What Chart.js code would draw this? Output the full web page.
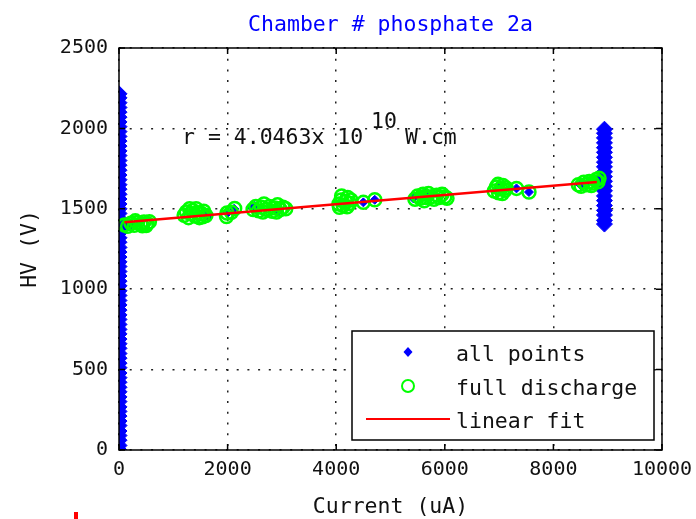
<!DOCTYPE html>
<html>
<head>
<meta charset="utf-8">
<script src="https://cdn.jsdelivr.net/npm/chart.js@4"></script>
<style>
  html, body { margin: 0; padding: 0; background: #fff; }
  #wrap { position: relative; width: 696px; height: 519px; }
  #stray { position: absolute; left: 74px; top: 512px; width: 4px; height: 7px; background: #ff0000; }
</style>
</head>
<body>
<div id="wrap">
  <canvas id="chart" width="696" height="519"></canvas>
  <div id="stray"></div>
</div>
<script>
// textes
const titleText = 'Chamber # phosphate 2a';
const xTitle = 'Current (uA)';
const yTitle = 'HV (V)';
const legendLabels = ['all points', 'full discharge', 'linear fit'];
const fitLabel = ['r = 4.0463x 10', '10', 'W.cm'];

// ticks
const xTicks = [0, 2000, 4000, 6000, 8000, 10000];
const yTicks = [0, 500, 1000, 1500, 2000, 2500];

// all points : colonne a I ~ 0
const leftColumnCurrent = 0;
const leftColumnHV = [0, 28, 61, 90, 118, 152, 180, 211, 240, 268, 301, 330, 362, 390, 421, 450,
  479, 512, 540, 571, 600, 632, 661, 690, 722, 750, 781, 812, 840, 870, 902, 930, 961, 990,
  1021, 1050, 1082, 1110, 1141, 1170, 1200, 1231, 1260, 1292, 1320, 1350, 1381, 1410, 1440,
  1471, 1500, 1530, 1561, 1590, 1622, 1650, 1681, 1710, 1740, 1771, 1800, 1831, 1860, 1890,
  1921, 1950, 1980, 2011, 2040, 2070, 2101, 2130, 2160, 2190, 2215];

// all points : colonne a I ~ 8940
const rightColumnCurrent = 8940;
const rightColumnHV = [1405, 1428, 1461, 1490, 1520, 1551, 1580, 1612, 1640, 1671, 1700, 1730,
  1761, 1790, 1820, 1851, 1880, 1910, 1941, 1970, 1995];

// all points visibles dans les paquets
const blueCurrent = [60, 120, 220, 1620, 1640, 2000, 2120, 2460, 2500, 2920, 4500, 4710,
  5420, 5560, 5640, 7000, 7320, 7550, 8500, 8610, 8800];
const blueHV = [1410, 1395, 1400, 1470, 1452, 1474, 1500, 1505, 1518, 1482, 1540, 1556,
  1565, 1580, 1595, 1630, 1627, 1604, 1648, 1652, 1672];

// full discharge
const fullCurrent = [100, 160, 220, 280, 340, 400, 460, 520, 560, 300, 430, 500,
  1200, 1240, 1280, 1320, 1360, 1400, 1440, 1480, 1520, 1560, 1600, 1300, 1420, 1540,
  1990, 2070, 2130, 1980,
  2470, 2520, 2570, 2620, 2670, 2720, 2770, 2820, 2870, 2920, 2970, 3020, 3070, 2650, 2900,
  4050, 4090, 4130, 4170, 4210, 4250, 4270, 4100, 4200, 4060,
  4500, 4710,
  5450, 5500, 5550, 5600, 5650, 5700, 5750, 5800, 5850, 5900, 5950, 6000, 6040, 5620,
  6910, 6950, 6990, 7030, 7070, 7110, 7130, 6980, 7060,
  7320, 7550,
  8460, 8510, 8560, 8610, 8660, 8720, 8780, 8820, 8840, 8700];
const fullHV = [1400, 1392, 1410, 1398, 1415, 1405, 1418, 1408, 1420, 1425, 1394, 1396,
  1460, 1480, 1445, 1470, 1490, 1455, 1475, 1445, 1470, 1485, 1458, 1500, 1500, 1450,
  1474, 1478, 1502, 1452,
  1495, 1515, 1488, 1510, 1530, 1495, 1515, 1485, 1505, 1525, 1495, 1510, 1500, 1480, 1480,
  1530, 1555, 1520, 1545, 1570, 1535, 1555, 1580, 1512, 1510,
  1540, 1556,
  1560, 1580, 1565, 1590, 1570, 1595, 1575, 1560, 1585, 1570, 1590, 1575, 1565, 1550,
  1610, 1635, 1600, 1625, 1645, 1615, 1630, 1652, 1595,
  1627, 1604,
  1650, 1640, 1665, 1650, 1670, 1660, 1680, 1668, 1690, 1645];

// linear fit
const fitCurrent = [100, 8800];
const fitHV = [1417, 1666];

const allPoints = []
  .concat(leftColumnHV.map(v => ({ x: leftColumnCurrent, y: v })))
  .concat(rightColumnHV.map(v => ({ x: rightColumnCurrent, y: v })))
  .concat(blueCurrent.map((c, i) => ({ x: c, y: blueHV[i] })));
const columnCount = leftColumnHV.length + rightColumnHV.length;

const monoFont = '"DejaVu Sans Mono", monospace';

// cadre, ticks interieurs, titres, annotation et legende
const framePlugin = {
  id: 'frame',
  afterDraw(chart) {
    const { ctx, chartArea: a, scales: { x, y } } = chart;
    ctx.save();
    ctx.setLineDash([]);
    ctx.strokeStyle = '#000';
    ctx.lineWidth = 1.5;
    ctx.strokeRect(a.left, a.top, a.right - a.left, a.bottom - a.top);
    ctx.beginPath();
    xTicks.forEach(v => {
      const px = x.getPixelForValue(v);
      ctx.moveTo(px, a.bottom); ctx.lineTo(px, a.bottom - 6);
      ctx.moveTo(px, a.top); ctx.lineTo(px, a.top + 6);
    });
    yTicks.forEach(v => {
      const py = y.getPixelForValue(v);
      ctx.moveTo(a.left, py); ctx.lineTo(a.left + 6, py);
      ctx.moveTo(a.right, py); ctx.lineTo(a.right - 6, py);
    });
    ctx.stroke();

    ctx.font = '21.5px ' + monoFont;
    ctx.textBaseline = 'middle';
    ctx.textAlign = 'center';
    ctx.fillStyle = '#0000ff';
    ctx.fillText(titleText, (a.left + a.right) / 2, 25);

    ctx.fillStyle = '#111';
    ctx.fillText(xTitle, (a.left + a.right) / 2, 507);
    ctx.save();
    ctx.translate(30, (a.top + a.bottom) / 2);
    ctx.rotate(-Math.PI / 2);
    ctx.fillText(yTitle, 0, 0);
    ctx.restore();

    // r = ... x 10^10 W.cm
    ctx.textAlign = 'left';
    ctx.fillText(fitLabel[0], 182, 138);
    ctx.fillText(fitLabel[1], 371, 122);
    ctx.fillText(fitLabel[2], 405, 138);

    // legende
    const lx = a.right - 310, ly = a.bottom - 119, lw = 302, lh = 109;
    ctx.fillStyle = '#fff';
    ctx.fillRect(lx, ly, lw, lh);
    ctx.strokeStyle = '#000';
    ctx.lineWidth = 1.5;
    ctx.strokeRect(lx, ly, lw, lh);

    const mx = lx + 56;
    ctx.fillStyle = '#0000ff';
    ctx.beginPath();
    ctx.moveTo(mx, ly + 16); ctx.lineTo(mx + 4.5, ly + 21);
    ctx.lineTo(mx, ly + 26); ctx.lineTo(mx - 4.5, ly + 21);
    ctx.closePath();
    ctx.fill();

    ctx.strokeStyle = '#00ff00';
    ctx.lineWidth = 2;
    ctx.beginPath();
    ctx.arc(mx, ly + 55, 6, 0, Math.PI * 2);
    ctx.stroke();

    ctx.strokeStyle = '#ff0000';
    ctx.beginPath();
    ctx.moveTo(lx + 14, ly + 88); ctx.lineTo(lx + 98, ly + 88);
    ctx.stroke();

    ctx.fillStyle = '#111';
    ctx.font = '21.5px ' + monoFont;
    ctx.fillText(legendLabels[0], lx + 104, ly + 24);
    ctx.fillText(legendLabels[1], lx + 104, ly + 58);
    ctx.fillText(legendLabels[2], lx + 104, ly + 91);
    ctx.restore();
  }
};

new Chart(document.getElementById('chart').getContext('2d'), {
  type: 'scatter',
  data: {
    datasets: [
      {
        label: legendLabels[2],
        data: fitCurrent.map((c, i) => ({ x: c, y: fitHV[i] })),
        showLine: true,
        borderColor: '#ff0000',
        borderWidth: 2.5,
        pointRadius: 0,
        order: 0
      },
      {
        label: legendLabels[1],
        data: fullCurrent.map((c, i) => ({ x: c, y: fullHV[i] })),
        pointStyle: 'circle',
        pointRadius: 6.5,
        borderColor: '#00ff00',
        backgroundColor: 'rgba(0,0,0,0)',
        borderWidth: 2.5,
        order: 1
      },
      {
        label: legendLabels[0],
        data: allPoints,
        pointStyle: 'rectRot',
        pointRadius: c => (c.dataIndex < columnCount ? 8 : 4.5),
        borderColor: '#0000ff',
        backgroundColor: '#0000ff',
        borderWidth: 1,
        order: 2
      }
    ]
  },
  options: {
    responsive: false,
    animation: false,
    devicePixelRatio: 1,
    layout: { padding: { top: 48, right: 34, left: 0, bottom: 0 } },
    plugins: {
      legend: { display: false },
      title: { display: false },
      tooltip: { enabled: false }
    },
    scales: {
      x: {
        type: 'linear',
        min: 0,
        max: 10000,
        afterFit: s => { s.height = 69; s.paddingRight = 0; s.paddingLeft = 0; },
        afterBuildTicks: s => { s.ticks = xTicks.map(v => ({ value: v })); },
        grid: { color: '#222', lineWidth: 1.5, drawTicks: false },
        border: { display: false, dash: [2, 8.7] },
        ticks: {
          padding: 8,
          color: '#111',
          maxRotation: 0,
          callback: v => String(v),
          font: { family: 'DejaVu Sans Mono', size: 20 }
        }
      },
      y: {
        type: 'linear',
        min: 0,
        max: 2500,
        afterFit: s => { s.width = 119; },
        afterBuildTicks: s => { s.ticks = yTicks.map(v => ({ value: v })); },
        grid: { color: '#222', lineWidth: 1.5, drawTicks: false },
        border: { display: false, dash: [2, 8.7] },
        ticks: {
          padding: 11,
          color: '#111',
          callback: v => String(v),
          font: { family: 'DejaVu Sans Mono', size: 20 }
        }
      }
    }
  },
  plugins: [framePlugin]
});
</script>
</body>
</html>
